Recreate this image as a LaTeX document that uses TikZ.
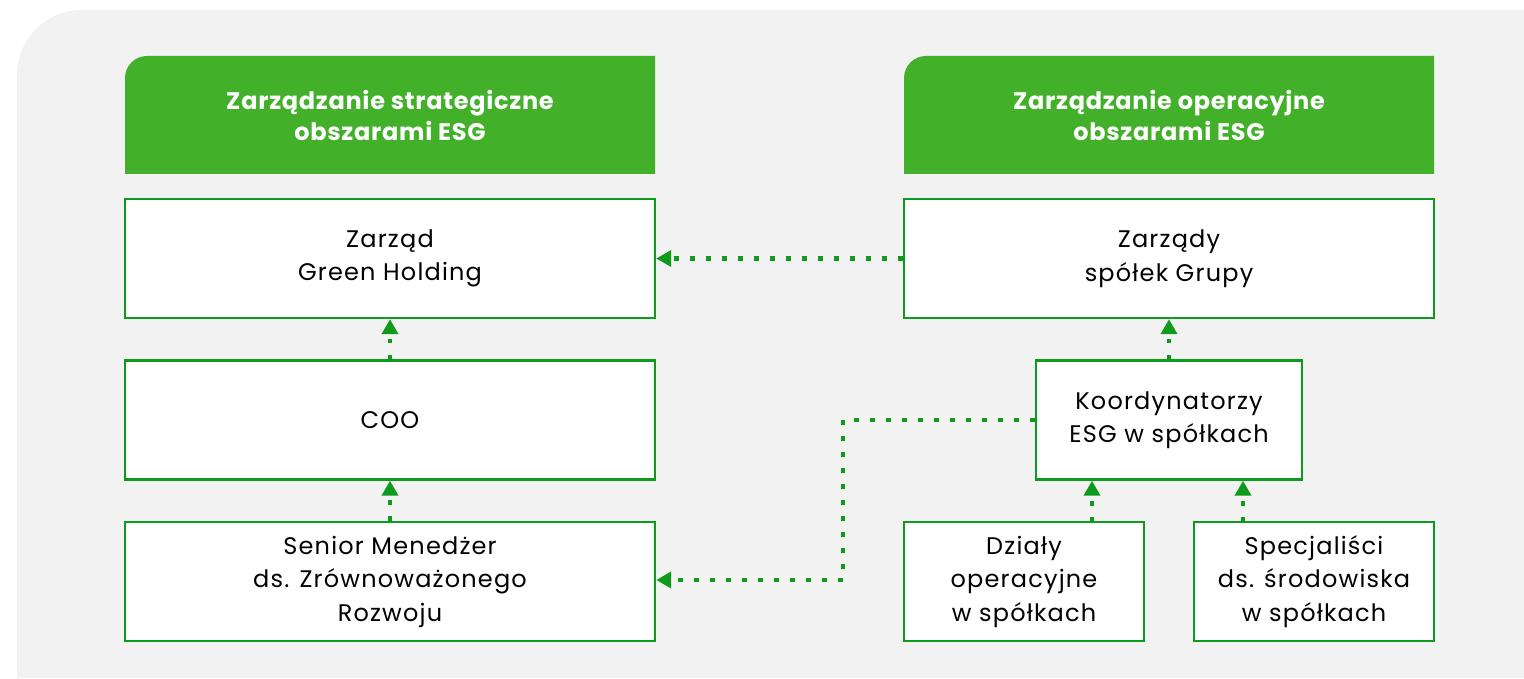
\documentclass[tikz,border=0pt]{standalone}
\usepackage{fontspec}
\setmainfont{Poppins}
\newfontfamily\unitfont{Poppins}[LetterSpace=5]
\newfontfamily\headfont{Poppins}[LetterSpace=3]
\usetikzlibrary{arrows.meta}

\definecolor{esgback}{HTML}{F2F2F2}
\definecolor{esghead}{HTML}{43B02A}
\definecolor{esgline}{HTML}{0E9B1B}

\tikzset{
  unit/.style={draw=esgline, line width=2.4pt, fill=white, align=center,
    minimum width=530pt, minimum height=119pt, inner sep=0pt,
    font=\unitfont\fontsize{24}{33.5}\selectfont},
  headtext/.style={text=white, align=center, inner sep=0pt,
    font=\headfont\fontsize{24}{31}\selectfont\bfseries},
  link/.style={esgline, line width=4.5pt, dash pattern=on 4.5pt off 11.5pt,
    -{Triangle[length=15pt,width=16pt]}, shorten >=0pt},
}

\begin{document}
\begin{tikzpicture}[x=1pt,y=1pt]
                \useasboundingbox (0,0) rectangle (1524,678);

                % Drawing background panel
                \fill [esgback] (17,0) -- (17,603) arc[start angle=180,end angle=90,radius=65pt] -- (1524,668) -- (1524,0) -- cycle;%

                % Drawing header strategic
                \fill [esghead] (125,504) -- (125,600) arc[start angle=180,end angle=90,radius=22pt] -- (655,622) -- (655,504) -- cycle;%
                \node [headtext] (hdrL) at (390,563) {Zarządzanie strategiczne\\obszarami ESG};%

                % Drawing header operational
                \fill [esghead] (904,504) -- (904,600) arc[start angle=180,end angle=90,radius=22pt] -- (1434,622) -- (1434,504) -- cycle;%
                \node [headtext] (hdrR) at (1169,563) {Zarządzanie operacyjne\\obszarami ESG};%

                % Drawing left column
                \node [unit] (zarzad) at (390,419.5) {Zarząd\\Green Holding};%
                \node [unit] (coo) at (390,258) {COO};%
                \node [unit] (senior) at (390,96.5) {Senior Menedżer\\ds. Zrównoważonego\\Rozwoju};%

                % Drawing right column
                \node [unit] (zarzady) at (1169,419.5) {Zarządy\\spółek Grupy};%
                \node [unit, minimum width=266pt] (koord) at (1169,258) {Koordynatorzy\\ESG w spółkach};%
                \node [unit, minimum width=240pt] (dzialy) at (1024,96.5) {Działy\\operacyjne\\w spółkach};%
                \node [unit, minimum width=240pt] (specj) at (1314,96.5) {Specjaliści\\ds. środowiska\\w spółkach};%

                % Drawing reporting lines
                \draw [link] (zarzady.west) -- (zarzad.east);%
                \draw [link] (coo.north) -- (zarzad.south);%
                \draw [link] (senior.north) -- (coo.south);%
                \draw [link] (koord.north) -- (zarzady.south);%

                \coordinate (dzTop) at (1092,156);
                \coordinate (spTop) at (1243,156);
                \draw [link] (dzTop) -- (dzTop |- koord.south);%
                \draw [link] (spTop) -- (spTop |- koord.south);%

                \coordinate (bend) at (843,258);
                \draw [link] (koord.west) -- (bend) -- (bend |- 0,98) -- (senior.east |- 0,98);%
            \end{tikzpicture}
\end{document}
